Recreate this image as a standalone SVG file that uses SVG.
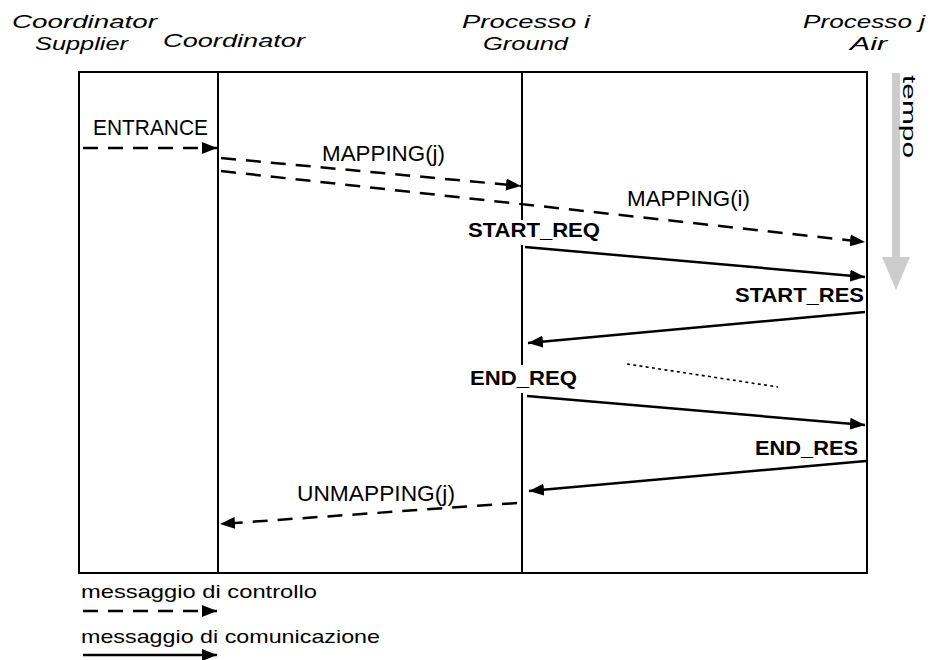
<svg xmlns="http://www.w3.org/2000/svg" width="940" height="660" viewBox="0 0 940 660">
  <style>
    .frame { fill: none; stroke: #000; stroke-width: 2; }
    .life { stroke: #000; stroke-width: 2; }
    .msg { fill: none; stroke: #000; stroke-width: 2.5; }
    .ctrl { stroke-dasharray: 15 10; }
    .head { font-family: "Liberation Sans", Arial, sans-serif; font-style: italic; font-size: 19px; fill: #000; }
    .lbl { font-family: "Liberation Sans", Arial, sans-serif; font-size: 22px; fill: #000; }
    .bold { font-family: "Liberation Sans", Arial, sans-serif; font-weight: bold; font-size: 21px; fill: #000; }
    .legend { font-family: "Liberation Sans", Arial, sans-serif; font-size: 19px; fill: #000; }
  </style>
  <defs>
    <marker id="arrow" markerUnits="userSpaceOnUse" markerWidth="15" markerHeight="12" refX="15" refY="6" orient="auto">
      <path d="M0,0 L15,6 L0,12 z" fill="#000"/>
    </marker>
  </defs>

  <rect width="940" height="660" fill="#fff"/>

  <!-- participant headers -->
  <g id="coordinator-supplier">
    <text class="head" x="12" y="28" textLength="145" lengthAdjust="spacingAndGlyphs">Coordinator</text>
    <text class="head" x="35" y="50" textLength="93" lengthAdjust="spacingAndGlyphs">Supplier</text>
  </g>
  <g id="coordinator">
    <text class="head" x="163" y="47" textLength="142" lengthAdjust="spacingAndGlyphs">Coordinator</text>
  </g>
  <g id="processo-i">
    <text class="head" x="462" y="28" textLength="128" lengthAdjust="spacingAndGlyphs">Processo i</text>
    <text class="head" x="483" y="50" textLength="85" lengthAdjust="spacingAndGlyphs">Ground</text>
  </g>
  <g id="processo-j">
    <text class="head" x="803" y="28" textLength="122" lengthAdjust="spacingAndGlyphs">Processo j</text>
    <text class="head" x="850" y="50" textLength="37" lengthAdjust="spacingAndGlyphs">Air</text>
  </g>

  <!-- frame and lifelines -->
  <g id="lifelines">
    <rect class="frame" x="79" y="72" width="788" height="501"/>
    <line class="life" x1="218" y1="72" x2="218" y2="573"/>
    <line class="life" x1="522" y1="72" x2="522" y2="573"/>
  </g>

  <!-- time axis -->
  <g id="tempo">
    <rect x="892" y="73" width="8" height="185" fill="#cccccc"/>
    <polygon points="882,257 910,257 896,290" fill="#cccccc"/>
    <text class="legend" transform="translate(903,75) rotate(90)" x="0" y="0" textLength="83" lengthAdjust="spacingAndGlyphs">tempo</text>
  </g>

  <!-- messages -->
  <g id="connectors">
    <line class="msg ctrl" x1="83" y1="148" x2="217" y2="148" marker-end="url(#arrow)"/>
    <line class="msg ctrl" x1="221" y1="158" x2="521" y2="186" marker-end="url(#arrow)"/>
    <line class="msg ctrl" x1="221" y1="171" x2="865" y2="242" marker-end="url(#arrow)"/>
    <line class="msg" x1="525" y1="247" x2="865" y2="277" marker-end="url(#arrow)"/>
    <line class="msg" x1="865" y1="312" x2="528" y2="343" marker-end="url(#arrow)"/>
    <line x1="627" y1="364" x2="778" y2="387" stroke="#000" stroke-width="1.6" stroke-dasharray="3 3.3"/>
    <line class="msg" x1="527" y1="396" x2="865" y2="425" marker-end="url(#arrow)"/>
    <line class="msg" x1="866" y1="461" x2="529" y2="491" marker-end="url(#arrow)"/>
    <line class="msg ctrl" x1="517" y1="503" x2="220" y2="524" marker-end="url(#arrow)"/>
  </g>

  <!-- message labels -->
  <g id="labels">
    <text class="lbl" x="93" y="135" textLength="115" lengthAdjust="spacingAndGlyphs">ENTRANCE</text>
    <text class="lbl" x="322" y="161" textLength="123" lengthAdjust="spacingAndGlyphs">MAPPING(j)</text>
    <text class="lbl" x="627" y="206" textLength="123" lengthAdjust="spacingAndGlyphs">MAPPING(i)</text>
    <rect x="516" y="220" width="12" height="25" fill="#fff"/>
    <text class="bold" x="468" y="237" textLength="132" lengthAdjust="spacingAndGlyphs">START_REQ</text>
    <text class="bold" x="735" y="302" textLength="129" lengthAdjust="spacingAndGlyphs">START_RES</text>
    <rect x="516" y="365" width="12" height="28" fill="#fff"/>
    <text class="bold" x="470" y="385" textLength="107" lengthAdjust="spacingAndGlyphs">END_REQ</text>
    <text class="bold" x="755" y="455" textLength="103" lengthAdjust="spacingAndGlyphs">END_RES</text>
    <text class="lbl" x="297" y="501" textLength="158" lengthAdjust="spacingAndGlyphs">UNMAPPING(j)</text>
  </g>

  <!-- legend -->
  <g id="legend">
    <text class="legend" x="81" y="598" textLength="236" lengthAdjust="spacingAndGlyphs">messaggio di controllo</text>
    <line class="msg ctrl" x1="83" y1="611" x2="217" y2="611" marker-end="url(#arrow)"/>
    <text class="legend" x="81" y="643" textLength="299" lengthAdjust="spacingAndGlyphs">messaggio di comunicazione</text>
    <line class="msg" x1="83" y1="655" x2="217" y2="655" marker-end="url(#arrow)"/>
  </g>
</svg>
